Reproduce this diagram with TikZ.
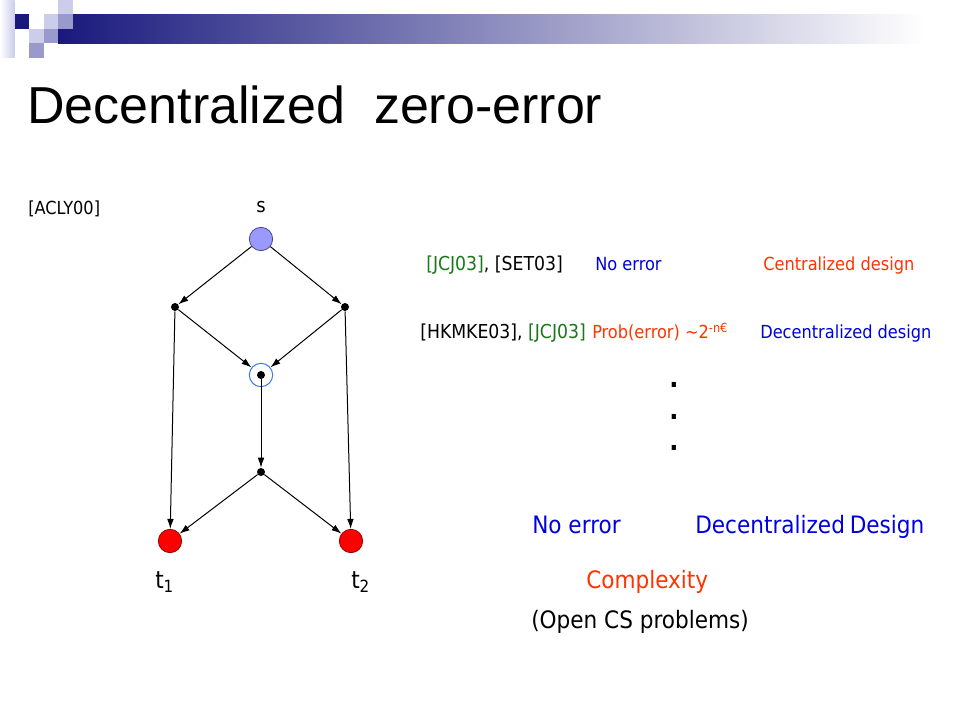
\documentclass[tikz,border=0pt]{standalone}
\usepackage{fontspec}
\setmainfont{DejaVu Sans Condensed}
\newfontfamily\titlefont{Liberation Sans}
\usepackage{tikz}
\usetikzlibrary{arrows.meta}
\definecolor{refnavy}{RGB}{25,25,125}
\definecolor{reflight}{RGB}{204,204,235}
\definecolor{refmid}{RGB}{153,153,204}
\definecolor{refblue}{RGB}{0,0,220}
\definecolor{refred}{RGB}{255,51,0}
\definecolor{refgreen}{RGB}{25,120,25}
\definecolor{srcfill}{RGB}{153,153,255}
\definecolor{srcdraw}{RGB}{70,70,140}
\definecolor{sinkfill}{RGB}{255,0,0}
\definecolor{sinkdraw}{RGB}{150,0,0}
\definecolor{ringblue}{RGB}{60,120,220}

\begin{document}
\begin{tikzpicture}[x=0.75pt, y=-0.75pt,
  >={Latex[length=7.5pt,width=5pt]},
  every node/.style={inner sep=0pt},
  txt/.style={anchor=base west, font=\fontsize{13.5}{16}\selectfont},
  cite/.style={anchor=base west, font=\fontsize{14.4}{17}\selectfont},
  big/.style={anchor=base west, font=\fontsize{18}{21}\selectfont},
  dot/.style={circle, fill=black, minimum size=6pt},
  src/.style={circle, draw=srcdraw, fill=srcfill, minimum size=17.5pt, line width=0.6pt},
  sink/.style={circle, draw=sinkdraw, fill=sinkfill, minimum size=17.5pt, line width=0.6pt},
  ring/.style={circle, draw=ringblue, minimum size=17.5pt, line width=0.75pt}]
\useasboundingbox (0,0) rectangle (960,720);

% corner squares and bar
\shade[left color=white, right color=reflight] (0,0) rectangle (14.5,58);
\shade[left color=refnavy, right color=white] (58,14.5) rectangle (925,43.5);
\fill[refnavy] (14.5,14.5) rectangle (29,29);
\fill[reflight] (58,0) rectangle (72.5,14.5);
\fill[reflight] (43.5,14.5) rectangle (58,29);
\fill[reflight] (29,29) rectangle (43.5,43.5);
\fill[refmid] (58,14.5) rectangle (72.5,29);
\fill[refmid] (43.5,29) rectangle (58,43.5);
\fill[refmid] (29,43.5) rectangle (43.5,58);

\node[anchor=base west, font=\titlefont\fontsize{39}{46}\selectfont] (title) at (27,124) {Decentralized\ \ zero-error};
\node[txt] (acly) at (28,215) {[ACLY00]};

% network
\node[src] (s) at (261,239) {};
\node[font=\fontsize{15}{18}\selectfont] (slab) at (261,207) {s};
\node[dot] (L) at (175,307) {};
\node[dot] (R) at (345,307) {};
\node[ring] (M) at (261,375) {};
\node[dot] (m) at (261,375) {};
\node[dot] (B) at (261,472) {};
\node[sink] (t1) at (170,541) {};
\node[sink] (t2) at (351,541) {};
\node[big] (t1lab) at (155,588) {t\textsubscript{1}};
\node[big] (t2lab) at (351,588) {t\textsubscript{2}};

\draw[line width=0.75pt]
	(s) edge[->] (L)
	(s) edge[->] (R)
	(L) edge[->] (M)
	(R) edge[->] (M)
	(m) edge[->] (B)
	(L) edge[->] (t1)
	(R) edge[->] (t2)
	(B) edge[->] (t1)
	(B) edge[->] (t2)
;

% results
\node[cite] (cite1) at (426,271) {\textcolor{refgreen}{[JCJ03]}, [SET03]};
\node[txt, text=refblue] (noerr1) at (595,271) {No error};
\node[txt, text=refred] (cent) at (763,271) {Centralized design};
\node[cite] (cite2) at (420,339) {[HKMKE03], \textcolor{refgreen}{[JCJ03]}};
\node[txt, text=refred] (prob) at (592,339) {Prob(error) \textasciitilde2\textsuperscript{-n€}};
\node[txt, text=refblue] (dec1) at (760,339) {Decentralized design};
\foreach \i/\y in {1/385, 2/417, 3/448}
  \node[font=\bfseries\fontsize{20}{24}\selectfont] (vd\i) at (674,\y) {.};
\node[big, text=refblue] (noerr2) at (532,533) {No error};
\node[big, text=refblue] (dec2) at (695,533) {Decentralized\hspace{-1.5pt} Design};
\node[big, text=refred] (cplx) at (586,588) {Complexity};
\node[big] (open) at (531,628) {(Open CS problems)};
\end{tikzpicture}
\end{document}
